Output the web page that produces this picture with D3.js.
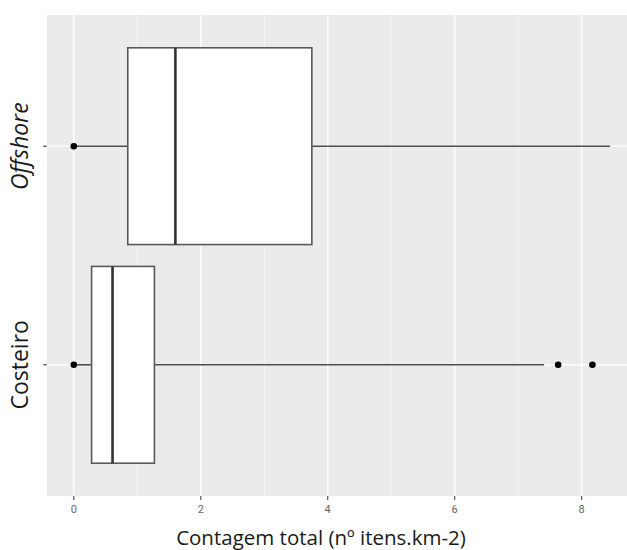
<!DOCTYPE html>
<html>
<head>
<meta charset="utf-8">
<script src="https://cdn.jsdelivr.net/npm/d3@7"></script>
<style>
  body { margin: 0; background: #fff; }
  svg { display: block; }
</style>
</head>
<body>
<div id="chart"></div>
<script>
// data
const categories = ['Offshore', 'Costeiro']
const q1 = [0.85, 0.28]
const median = [1.60, 0.61]
const q3 = [3.75, 1.27]
const whiskerLow = [0, 0]
const whiskerHigh = [8.45, 7.41]
const points = [[0], [0, 7.63, 8.17]]
const xTicks = [0, 2, 4, 6, 8]
const xMinor = [1, 3, 5, 7]

let width = 627,
    height = 550

let svg = d3.select('#chart').append('svg')
    .attr('width', width)
    .attr('height', height)

let panel = {left: 47, top: 15, bottom: 496}

let x = d3.scaleLinear()
    .domain([-0.4225, 8.8725])
    .range([panel.left, 637])

let y = d3.scalePoint()
    .domain(categories)
    .range([panel.top, panel.bottom])
    .padding(0.6)

let step = y.step()
let boxH = step * 0.9

// panel background
svg.append('rect')
    .attr('x', panel.left)
    .attr('y', panel.top)
    .attr('width', width - panel.left)
    .attr('height', panel.bottom - panel.top)
    .attr('fill', '#ebebeb')

// minor grid
svg.selectAll('.minor')
    .data(xMinor)
    .enter()
    .append('line')
    .attr('x1', d => x(d))
    .attr('x2', d => x(d))
    .attr('y1', panel.top)
    .attr('y2', panel.bottom)
    .attr('stroke', '#fafafa')
    .attr('stroke-width', 0.8)

// major grid
svg.selectAll('.major')
    .data(xTicks)
    .enter()
    .append('line')
    .attr('x1', d => x(d))
    .attr('x2', d => x(d))
    .attr('y1', panel.top)
    .attr('y2', panel.bottom)
    .attr('stroke', '#ffffff')
    .attr('stroke-width', 1.6)

svg.selectAll('.hgrid')
    .data(categories)
    .enter()
    .append('line')
    .attr('x1', panel.left)
    .attr('x2', width)
    .attr('y1', d => y(d))
    .attr('y2', d => y(d))
    .attr('stroke', '#ffffff')
    .attr('stroke-width', 1.6)

// boxes
let groups = svg.selectAll('.box')
    .data(categories)
    .enter()
    .append('g')

groups.append('line')
    .attr('x1', (d, i) => x(whiskerLow[i]))
    .attr('x2', (d, i) => x(q1[i]))
    .attr('y1', d => y(d))
    .attr('y2', d => y(d))
    .attr('stroke', '#4d4d4d')
    .attr('stroke-width', 1.6)

groups.append('line')
    .attr('x1', (d, i) => x(q3[i]))
    .attr('x2', (d, i) => x(whiskerHigh[i]))
    .attr('y1', d => y(d))
    .attr('y2', d => y(d))
    .attr('stroke', '#4d4d4d')
    .attr('stroke-width', 1.6)

groups.append('rect')
    .attr('x', (d, i) => x(q1[i]))
    .attr('y', d => y(d) - boxH / 2)
    .attr('width', (d, i) => x(q3[i]) - x(q1[i]))
    .attr('height', boxH)
    .attr('fill', '#ffffff')
    .attr('stroke', '#5a5a5a')
    .attr('stroke-width', 1.6)

groups.append('line')
    .attr('x1', (d, i) => x(median[i]))
    .attr('x2', (d, i) => x(median[i]))
    .attr('y1', d => y(d) - boxH / 2)
    .attr('y2', d => y(d) + boxH / 2)
    .attr('stroke', '#333333')
    .attr('stroke-width', 2.6)

categories.forEach(function(c, i) {
    svg.selectAll('.pt' + i)
        .data(points[i])
        .enter()
        .append('circle')
        .attr('cx', d => x(d))
        .attr('cy', y(c))
        .attr('r', 3.3)
        .attr('fill', '#000')
})

// x axis ticks + labels
svg.selectAll('.xtick')
    .data(xTicks)
    .enter()
    .append('line')
    .attr('x1', d => x(d))
    .attr('x2', d => x(d))
    .attr('y1', panel.bottom)
    .attr('y2', panel.bottom + 4)
    .attr('stroke', '#555')
    .attr('stroke-width', 1.2)

svg.selectAll('.xlab')
    .data(xTicks)
    .enter()
    .append('text')
    .attr('x', d => x(d))
    .attr('y', panel.bottom + 17)
    .attr('text-anchor', 'middle')
    .attr('font-family', 'Roboto, sans-serif')
    .attr('font-size', 11)
    .attr('fill', '#666')
    .text(d => d)

// y axis ticks + labels
svg.selectAll('.ytick')
    .data(categories)
    .enter()
    .append('line')
    .attr('x1', panel.left - 4)
    .attr('x2', panel.left)
    .attr('y1', d => y(d))
    .attr('y2', d => y(d))
    .attr('stroke', '#555')
    .attr('stroke-width', 1.2)

svg.selectAll('.ylab')
    .data(categories)
    .enter()
    .append('text')
    .attr('transform', d => 'translate(28,' + y(d) + ') rotate(-90)')
    .attr('text-anchor', 'middle')
    .attr('font-family', 'Open Sans, sans-serif')
    .attr('font-size', 23)
    .attr('font-style', d => d == 'Offshore' ? 'italic' : 'normal')
    .attr('fill', '#1a1a1a')
    .text(d => d)

svg.append('text')
    .attr('x', 321)
    .attr('y', 545)
    .attr('text-anchor', 'middle')
    .attr('font-family', 'Open Sans, sans-serif')
    .attr('font-size', 20.5)
    .attr('fill', '#1a1a1a')
    .text('Contagem total (nº itens.km-2)')
</script>
</body>
</html>
